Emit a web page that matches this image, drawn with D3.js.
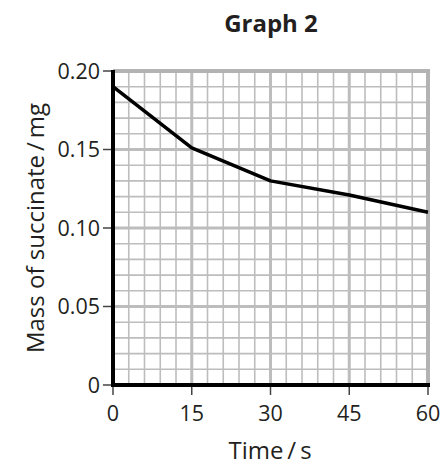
<!DOCTYPE html>
<html>
<head>
<meta charset="utf-8">
<script src="https://cdn.jsdelivr.net/npm/d3@7"></script>
<style>
body{margin:0;background:#fff;}
text{font-family:"Open Sans","Noto Sans",sans-serif;fill:#231f20;}
</style>
</head>
<body>
<svg width="447" height="468"></svg>
<script>
var times = [0, 15, 30, 45, 60];
var mass = [0.19, 0.151, 0.13, 0.121, 0.11];
var xTicks = [0, 15, 30, 45, 60];
var yTicks = [0, 0.05, 0.10, 0.15, 0.20];
var yTickLabels = ["0", "0.05", "0.10", "0.15", "0.20"];

var marge = {top:71, left:113, right:19, bottom:83};
var width = 447, height = 468;
var svg = d3.select("svg");

var x = d3.scaleLinear().domain([0,60]).range([marge.left, width-marge.right]);
var y = d3.scaleLinear().domain([0,0.20]).range([height-marge.bottom, marge.top]);

// grid
var g = svg.append("g");
var minorX = d3.range(0, 61, 3), minorY = d3.range(0, 21).map(function(d){return d/100;});
g.selectAll(".vx").data(minorX).enter().append("line")
  .attr("x1", function(d){return x(d);}).attr("x2", function(d){return x(d);})
  .attr("y1", y(0)).attr("y2", y(0.2))
  .attr("stroke","#bdbdbd")
  .attr("stroke-width", function(d){return d%15==0 ? 3 : 1.6;});
g.selectAll(".hy").data(minorY).enter().append("line")
  .attr("y1", function(d){return y(d);}).attr("y2", function(d){return y(d);})
  .attr("x1", x(0)).attr("x2", x(60))
  .attr("stroke","#bdbdbd")
  .attr("stroke-width", function(d,i){return i%5==0 ? 3 : 1.6;});
// outer border top & right
g.append("path").attr("d","M"+x(0)+","+y(0.2)+"H"+x(60)+"V"+y(0))
  .attr("fill","none").attr("stroke","#b3b3b3").attr("stroke-width",4);

// ticks
svg.selectAll(".ty").data(yTicks).enter().append("line")
  .attr("x1", x(0)-10).attr("x2", x(0))
  .attr("y1", function(d){return y(d);}).attr("y2", function(d){return y(d);})
  .attr("stroke","#444").attr("stroke-width",1.5);
svg.selectAll(".tyl").data(yTicks).enter().append("text")
  .attr("x", x(0)-13).attr("y", function(d){return y(d);})
  .attr("dy","0.36em").attr("text-anchor","end").style("font-size","21.5px")
  .text(function(d,i){return yTickLabels[i];});
svg.selectAll(".tx").data(xTicks).enter().append("line")
  .attr("y1", y(0)).attr("y2", y(0)+10)
  .attr("x1", function(d){return x(d);}).attr("x2", function(d){return x(d);})
  .attr("stroke","#444").attr("stroke-width",1.5);
svg.selectAll(".txl").data(xTicks).enter().append("text")
  .attr("y", y(0)+36).attr("x", function(d){return x(d);})
  .attr("text-anchor","middle").style("font-size","21.5px")
  .text(function(d){return d;});

// axes
svg.append("path").attr("d","M"+x(0)+","+(y(0.2)-1)+"V"+y(0)+"H"+(x(60)+2))
  .attr("fill","none").attr("stroke","#000").attr("stroke-width",4);

// data line
var line = d3.line().x(function(d,i){return x(times[i]);}).y(function(d){return y(d);});
svg.append("path").datum(mass).attr("d", line)
  .attr("fill","none").attr("stroke","#000").attr("stroke-width",3.5)
  .attr("stroke-linejoin","round");

// labels
svg.append("text").attr("x",271).attr("y",32).attr("text-anchor","middle")
  .style("font-size","24px").style("font-weight","bold").text("Graph 2");
svg.append("text").attr("x",270).attr("y",459).attr("text-anchor","middle")
  .style("font-size","24px").text("Time\u2009/\u2009s");
svg.append("text").attr("transform","translate(44,228) rotate(-90)").attr("text-anchor","middle")
  .style("font-size","24px").text("Mass of succinate\u2009/\u2009mg");
</script>
</body>
</html>
